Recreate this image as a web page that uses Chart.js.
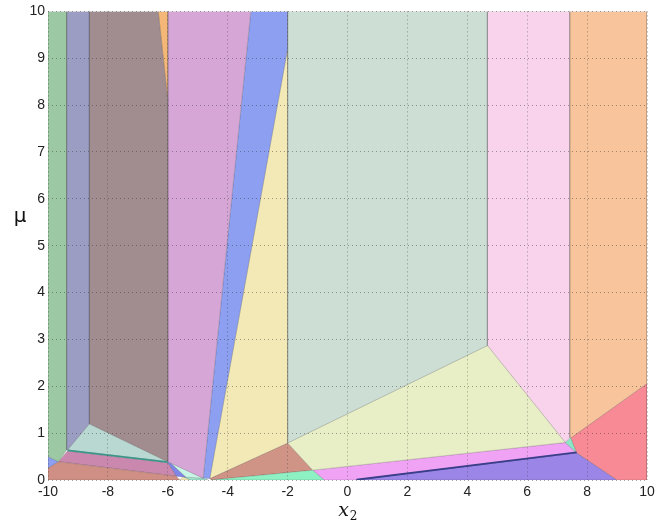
<!DOCTYPE html>
<html>
<head>
<meta charset="utf-8">
<script src="https://cdn.jsdelivr.net/npm/chart.js@4.4.0/dist/chart.umd.min.js"></script>
<style>
  html, body { margin: 0; padding: 0; background: #fff; }
  #wrap { width: 666px; height: 524px; }
</style>
</head>
<body>
<div id="wrap"><canvas id="partition"></canvas></div>
<script>
// --- axis ticks ---
const xTicks = [-10, -8, -6, -4, -2, 0, 2, 4, 6, 8, 10];
const yTicks = [0, 1, 2, 3, 4, 5, 6, 7, 8, 9, 10];

// --- region vertices (x2, mu) ---
const green      = [[-10, 10], [-9.38, 10], [-9.38, 0.64], [-9.65, 0.39], [-10, 0.5]];
const slate      = [[-9.38, 10], [-8.62, 10], [-8.62, 1.2], [-9.35, 0.64], [-9.38, 0.64]];
const mauve      = [[-8.62, 10], [-6.32, 10], [-6, 8.1], [-6, 0.39], [-8.62, 1.2]];
const amber      = [[-6.32, 10], [-6, 10], [-6, 8.1]];
const orchid     = [[-6, 10], [-3.23, 10], [-4.82, 0.04], [-6, 0.39]];
const blue       = [[-3.23, 10], [-2, 10], [-2, 9.2], [-4.6, 0.03], [-4.82, 0.04]];
const yellow     = [[-2, 9.2], [-2, 0.79], [-4.6, 0.03]];
const sage       = [[-2, 10], [4.67, 10], [4.67, 2.87], [-2, 0.79]];
const lime       = [[-2, 0.79], [4.67, 2.87], [7.27, 0.8], [-1.16, 0.21]];
const blush      = [[4.67, 10], [7.42, 10], [7.42, 0.9], [7.27, 0.8], [4.67, 2.87]];
const peach      = [[7.42, 10], [10, 10], [10, 2.06], [7.46, 0.9], [7.42, 0.9]];
const coral      = [[7.46, 0.9], [10, 2.06], [10, 0], [9.0, 0], [7.65, 0.58]];
const aqua       = [[7.27, 0.8], [7.46, 0.9], [7.65, 0.58]];
const violet     = [[-1.16, 0.21], [7.27, 0.8], [7.65, 0.58], [0.2, 0], [-0.77, 0]];
const purple     = [[0.2, 0], [7.65, 0.58], [9.0, 0]];
const mint       = [[-4.55, 0], [-1.16, 0.21], [-0.77, 0]];
const rust       = [[-4.6, 0.03], [-2, 0.79], [-1.16, 0.21], [-4.55, 0]];
const salmon     = [[-10, 0], [-10, 0.25], [-9.65, 0.39], [-5.72, 0.08], [-5.6, 0]];
const rose       = [[-9.65, 0.39], [-9.35, 0.62], [-6, 0.37], [-5.72, 0.08]];
const paleTeal   = [[-9.35, 0.64], [-8.62, 1.2], [-6, 0.39]];
const cornflower = [[-10, 0.5], [-9.65, 0.39], [-10, 0.25]];
const sliver     = [[-6, 0.39], [-5.92, 0.37], [-5.4, 0.06], [-5.72, 0.08], [-6, 0.37]];
const ice        = [[-5.92, 0.37], [-4.82, 0.04], [-5.4, 0.06]];
const straw      = [[-5.6, 0], [-5.5, 0.07], [-5.25, 0]];
const seafoam    = [[-5.5, 0.07], [-4.82, 0.04], [-4.65, 0], [-5.25, 0]];
const tealEdge   = [[-9.35, 0.63], [-6, 0.38]];
const navyEdge   = [[0.3, 0.005], [7.65, 0.59]];

const regions = [
  [tealEdge, null, '#3d9488'],
  [navyEdge, null, '#3a3f8a'],
  [green, '#9cc9a3'],
  [slate, '#9b9dc3'],
  [mauve, '#a18c8f'],
  [amber, '#f4b777'],
  [orchid, '#d6a7d6'],
  [blue, '#8d9ff0'],
  [yellow, '#f2e9b6'],
  [sage, '#cddfd5'],
  [lime, '#e8eec6'],
  [blush, '#f8d3eb'],
  [peach, '#f7c49b'],
  [coral, '#f78a94'],
  [aqua, '#8ee6c6'],
  [violet, '#f0a3f4'],
  [purple, '#9b85e6'],
  [mint, '#8ef1c3'],
  [rust, '#d09487'],
  [salmon, '#cf8f84'],
  [rose, '#cb88af'],
  [paleTeal, '#b8d8d1'],
  [cornflower, '#8d9ff0'],
  [sliver, '#7f86e8'],
  [ice, '#c8f5e6'],
  [straw, '#f2e9b6'],
  [seafoam, '#9fe6cc'],
];

function toPoints(verts, closed) {
  const pts = verts.map(([x, y]) => ({ x, y }));
  if (closed) pts.push({ ...pts[0] });
  return pts;
}

const datasets = regions.map(([verts, fillColor, lineColor]) => {
  const isEdge = fillColor === null;
  return {
    data: toPoints(verts, !isEdge),
    showLine: true,
    fill: isEdge ? false : 'shape',
    backgroundColor: fillColor || 'transparent',
    borderColor: isEdge ? lineColor : 'rgba(40,40,40,0.22)',
    borderWidth: isEdge ? 1.8 : 0.8,
    pointRadius: 0,
    pointHoverRadius: 0,
    tension: 0,
  };
});

// --- axis labels drawn as text on the canvas ---
const axisTitles = {
  id: 'axisTitles',
  afterDraw(chart) {
    const { ctx, chartArea } = chart;
    const cx = (chartArea.left + chartArea.right) / 2;
    ctx.save();
    ctx.fillStyle = '#111';
    ctx.textBaseline = 'alphabetic';
    ctx.textAlign = 'center';
    ctx.font = '20px "DejaVu Sans"';
    ctx.fillText('μ', 20, 222);
    ctx.font = 'italic 19px "DejaVu Serif"';
    ctx.fillText('x', cx - 4, 516);
    ctx.font = '12px "DejaVu Serif"';
    ctx.fillText('2', cx + 6, 520);
    ctx.restore();
  },
};

const tickFont = { family: '"Liberation Sans", Arial, sans-serif', size: 14 };
const gridOpts = { color: 'rgba(50,50,50,0.45)', lineWidth: 1, drawTicks: false, z: 1 };
const borderOpts = { display: false, dash: [1, 3] };

new Chart(document.getElementById('partition'), {
  type: 'scatter',
  data: { datasets },
  options: {
    animation: false,
    responsive: true,
    maintainAspectRatio: false,
    layout: { padding: { left: 0, top: 10, right: 19, bottom: 0 } },
    plugins: {
      legend: { display: false },
      tooltip: { enabled: false },
      filler: { propagate: false },
    },
    events: [],
    scales: {
      x: {
        type: 'linear',
        min: -10,
        max: 10,
        afterBuildTicks: (scale) => { scale.ticks = xTicks.map((v) => ({ value: v })); },
        afterFit: (scale) => { scale.height = 44; },
        ticks: { font: tickFont, color: '#222', padding: 4, maxRotation: 0 },
        grid: gridOpts,
        border: borderOpts,
      },
      y: {
        type: 'linear',
        min: 0,
        max: 10,
        afterBuildTicks: (scale) => { scale.ticks = yTicks.map((v) => ({ value: v })); },
        afterFit: (scale) => { scale.width = 48; },
        ticks: { font: tickFont, color: '#222', padding: 3 },
        grid: gridOpts,
        border: borderOpts,
      },
    },
  },
  plugins: [axisTitles],
});
</script>
</body>
</html>
